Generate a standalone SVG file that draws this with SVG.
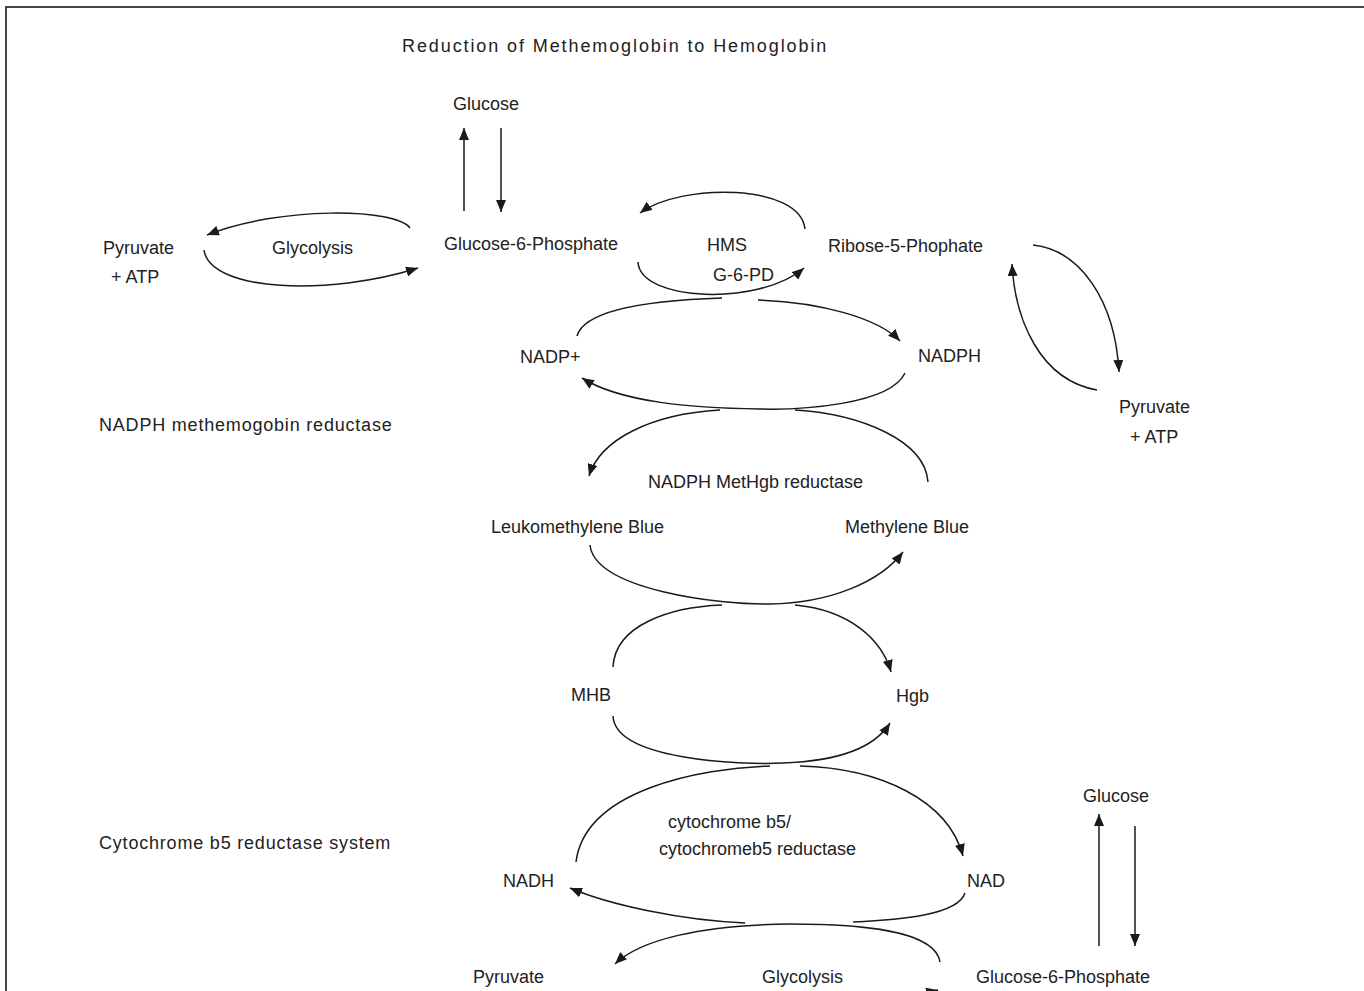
<svg xmlns="http://www.w3.org/2000/svg" width="1364" height="991" viewBox="0 0 1364 991">
<style>
text{font-family:"Liberation Sans",Arial,sans-serif;font-size:18px;fill:#222}
.title{letter-spacing:1.9px}
.sect{letter-spacing:0.8px}
.c{fill:none;stroke:#1a1a1a;stroke-width:1.5}
.a{marker-end:url(#ah)}
.frame{fill:none;stroke:#444;stroke-width:2}
</style>
<defs>
<marker id="ah" markerUnits="userSpaceOnUse" markerWidth="13" markerHeight="10" refX="12" refY="5" orient="auto">
<path d="M0,0 L12,5 L0,10 z" fill="#1a1a1a"/>
</marker>
</defs>
<rect width="1364" height="991" fill="#fff"/>
<path class="frame" d="M6,991 L6,7 L1364,7"/>
<g id="title"><text class="title" x="402" y="52">Reduction of Methemoglobin to Hemoglobin</text></g>
<g id="glucose-top"><text x="453" y="110">Glucose</text></g>
<g id="pyruvate-left"><text x="103" y="254">Pyruvate</text><text x="111" y="283">+ ATP</text></g>
<g id="glycolysis-top"><text x="272" y="254">Glycolysis</text></g>
<g id="g6p-top"><text x="444" y="250">Glucose-6-Phosphate</text></g>
<g id="hms"><text x="707" y="251">HMS</text><text x="713" y="281">G-6-PD</text></g>
<g id="ribose"><text x="828" y="252">Ribose-5-Phophate</text></g>
<g id="nadp-plus"><text x="520" y="363">NADP+</text></g>
<g id="nadph"><text x="918" y="362">NADPH</text></g>
<g id="sect-nadph"><text class="sect" x="99" y="431">NADPH methemogobin reductase</text></g>
<g id="pyruvate-right"><text x="1119" y="413">Pyruvate</text><text x="1130" y="443">+ ATP</text></g>
<g id="nadph-methgb"><text x="648" y="488">NADPH MetHgb reductase</text></g>
<g id="leuko"><text x="491" y="533">Leukomethylene Blue</text></g>
<g id="mblue"><text x="845" y="533">Methylene Blue</text></g>
<g id="mhb"><text x="571" y="701">MHB</text></g>
<g id="hgb"><text x="896" y="702">Hgb</text></g>
<g id="glucose-bottom"><text x="1083" y="802">Glucose</text></g>
<g id="sect-cyt"><text class="sect" x="99" y="849">Cytochrome b5 reductase system</text></g>
<g id="cyt-enzyme"><text x="668" y="828">cytochrome b5/</text><text x="659" y="855">cytochromeb5 reductase</text></g>
<g id="nadh"><text x="503" y="887">NADH</text></g>
<g id="nad"><text x="967" y="887">NAD</text></g>
<g id="pyruvate-bottom"><text x="473" y="983">Pyruvate</text></g>
<g id="glycolysis-bottom"><text x="762" y="983">Glycolysis</text></g>
<g id="g6p-bottom"><text x="976" y="983">Glucose-6-Phosphate</text></g>
<g id="connectors">
<path class="c a" d="M464,211 L464,128"/>
<path class="c a" d="M501,128 L501,212"/>
<path class="c a" d="M410,228 C395,208 280,206 207,235"/>
<path class="c a" d="M204,250 C210,292 330,296 418,268"/>
<path class="c a" d="M805,229 C800,183 680,183 640,213"/>
<path class="c a" d="M638,262 C640,302 760,306 804,268"/>
<path class="c" d="M577,336 C585,308 660,300 722,298"/>
<path class="c a" d="M758,300 C820,302 878,318 900,341"/>
<path class="c a" d="M905,373 C890,405 800,410 760,409 C690,408 620,402 582,378"/>
<path class="c" d="M928,482 C925,440 860,414 795,410"/>
<path class="c a" d="M720,410 C650,414 600,440 589,476"/>
<path class="c a" d="M590,545 C595,590 720,605 770,604 C830,603 880,582 903,552"/>
<path class="c" d="M613,667 C615,625 670,607 722,605"/>
<path class="c a" d="M795,605 C850,610 882,640 891,672"/>
<path class="c a" d="M613,716 C615,760 740,765 783,763 C840,761 875,747 890,723"/>
<path class="c" d="M576,862 C585,790 700,768 770,766"/>
<path class="c a" d="M800,766 C880,768 948,800 963,856"/>
<path class="c" d="M965,893 C958,915 900,920 853,922"/>
<path class="c a" d="M745,923 C680,920 610,905 570,888"/>
<path class="c a" d="M940,962 C935,930 860,924 790,924 C700,925 640,940 615,964"/>
<path class="c a" d="M900,1000 C915,996 925,993 938,990"/>
<path class="c a" d="M1033,245 C1080,250 1115,300 1119,372"/>
<path class="c a" d="M1097,390 C1040,380 1015,320 1012,264"/>
<path class="c a" d="M1099,946 L1099,814"/>
<path class="c a" d="M1135,826 L1135,946"/>
</g>
</svg>
